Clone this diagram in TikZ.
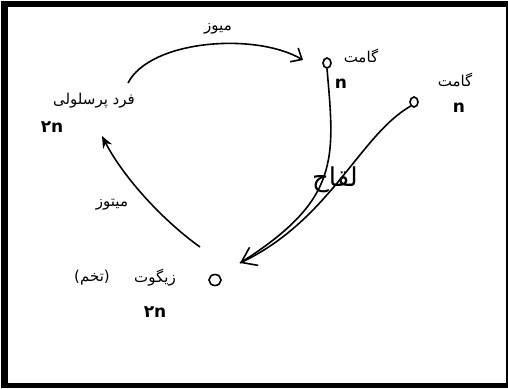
\documentclass[tikz,border=0pt]{standalone}
\usepackage{fontspec}
\newfontfamily\fa[Script=Arabic]{DejaVu Sans}
\TeXXeTstate=1
\usetikzlibrary{arrows.meta,shapes.geometric}
\begin{document}
\begin{tikzpicture}[x=1pt,y=-1pt,
  lbl/.style={font=\fa\fontsize{15}{18}\selectfont, inner sep=0pt},
  numlbl/.style={font=\fa\bfseries\fontsize{17}{20}\selectfont, inner sep=0pt},
  biglbl/.style={font=\fa\fontsize{26}{30}\selectfont, inner sep=0pt},
  cell/.style={ellipse, draw, line width=1.6pt, minimum width=8pt, minimum height=10pt, inner sep=0pt},
  link/.style={line width=1.6pt}]
\useasboundingbox (0,0) rectangle (508,388);
\fill[white] (0,0) rectangle (508,388);
% frame
\fill (1,1) rectangle (508,7);
\fill (1,1) rectangle (8,388);
\fill (1,383) rectangle (508,388);
\fill (506,1) rectangle (508,388);
% individual
\node[lbl] (indiv) at (94,101) {\beginR فرد پرسلولی\endR};
\node[numlbl] (indivp) at (52,127) {۲n};
% gametes
\node[cell] (g1) at (327,63) {};
\node[lbl] (g1l) at (361,56) {\beginR گامت\endR};
\node[numlbl] (g1p) at (341,84) {n};
\node[cell] (g2) at (414,102) {};
\node[lbl] (g2l) at (455,80) {\beginR گامت\endR};
\node[numlbl] (g2p) at (459,108) {n};
% zygote
\node[cell, minimum width=12pt, minimum height=11pt] (zyg) at (215,280) {};
\node[lbl] (zygl) at (155,278) {\beginR زیگوت\endR};
\node[lbl] (egg) at (92,278) {\beginR(تخم)\endR};
\node[numlbl] (zygp) at (155,312) {۲n};
% labels of processes
\node[lbl] (meio) at (218,29) {\beginR میوز\endR};
\node[lbl] (mito) at (112,205) {\beginR میتوز\endR};
\node[biglbl] (fert) at (335,180) {\beginR لقاح\endR};
% meiosis arrow
\draw[link,-{Straight Barb[length=9pt,width=16pt,line width=1.6pt]}]
  ([xshift=34pt,yshift=18pt]indiv.center) .. controls (150,40) and (255,32) .. ([xshift=-24pt,yshift=3pt]g1.center);
% mitosis arrow
\draw[link,-{Stealth[length=12pt,width=10pt]}]
  ([xshift=-15pt,yshift=33pt]zyg.center) .. controls (165,222) and (125,180) .. ([xshift=8pt,yshift=-35pt]indiv.center);
% fertilization
\draw[link] (g1.south) .. controls (335,160) and (340,200) .. ([xshift=25pt,yshift=17pt]zyg.center);
\draw[link,-{Straight Barb[length=14pt,width=20pt,line width=1.6pt]}]
  (g2.south west) .. controls (360,135) and (330,220) .. ([xshift=25pt,yshift=17pt]zyg.center);
\end{tikzpicture}
\end{document}
